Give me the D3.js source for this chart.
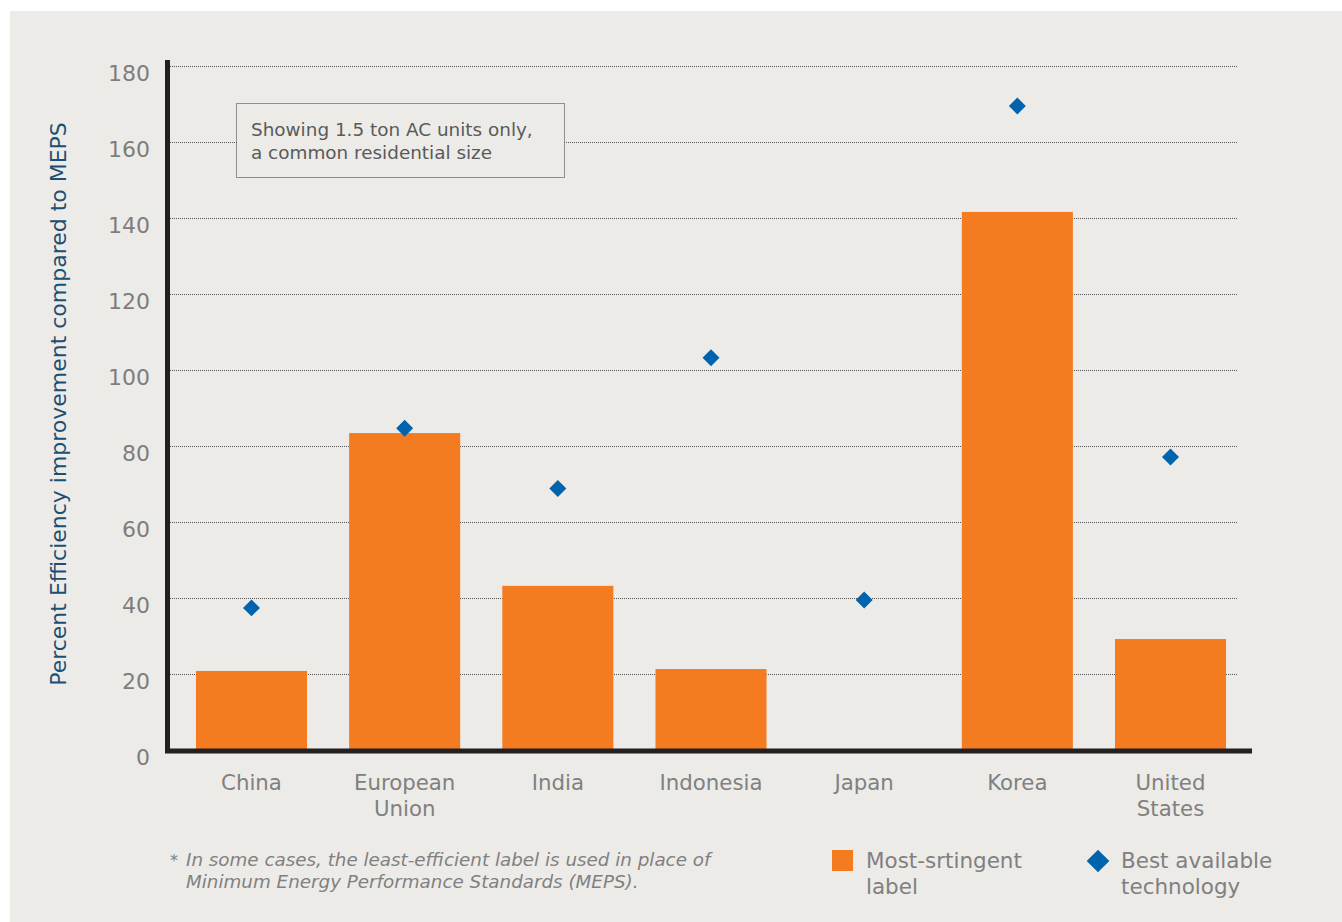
<!DOCTYPE html>
<html>
<head>
<meta charset="utf-8">
<script src="https://cdn.jsdelivr.net/npm/d3@7"></script>
<style>
  html, body { margin: 0; padding: 0; background: #ffffff; }
  svg { display: block; }
  text { font-family: "DejaVu Sans", "Open Sans", sans-serif; }
</style>
</head>
<body>
<svg id="chart" width="1342" height="922"></svg>
<script>
const categories = ["China", "European Union", "India", "Indonesia", "Japan", "Korea", "United States"];
const categoryLines = [["China"], ["European", "Union"], ["India"], ["Indonesia"], ["Japan"], ["Korea"], ["United", "States"]];
const mostStringent = [20.8, 83.4, 43.2, 21.3, null, 141.6, 29.2];
const bestAvailable = [37.4, 84.7, 68.8, 103.2, 39.5, 169.5, 77.1];
const yTicks = [0, 20, 40, 60, 80, 100, 120, 140, 160, 180];
const yTitle = "Percent Efficiency improvement compared to MEPS";
const noteLines = ["Showing 1.5 ton AC units only,", "a common residential size"];
const footnoteLines = ["In some cases, the least-efficient label is used in place of", "Minimum Energy Performance Standards (MEPS)."];
const legendItems = [["Most-srtingent", "label"], ["Best available", "technology"]];

const svg = d3.select("#chart");
const ORANGE = "#f47b20", BLUE = "#0063ae", GREY = "#808080";

// fit font size of a selection so that a sample text has a target width
function fitSize(sel, sampleNode, target) {
  const w = sampleNode.getComputedTextLength();
  const fs = parseFloat(sampleNode.getAttribute("font-size"));
  const nfs = fs * target / w;
  sel.attr("font-size", nfs);
  return nfs;
}

svg.append("rect").attr("x", 10).attr("y", 11).attr("width", 1332).attr("height", 911).attr("fill", "#edebe8");

const y = d3.scaleLinear().domain([0, 180]).range([750, 66]);
const x = d3.scaleBand().domain(categories).range([174.9, 1247.1]).paddingInner(0.275).paddingOuter(0.1375);

// gridlines
svg.append("g").selectAll("line").data(yTicks.filter(d => d > 0)).join("line")
  .attr("x1", 170).attr("x2", 1238)
  .attr("y1", d => y(d) + 0.5).attr("y2", d => y(d) + 0.5)
  .attr("stroke", "#555").attr("stroke-width", 1).attr("stroke-dasharray", "1,1");

// annotation box
const box = svg.append("g");
box.append("rect").attr("x", 236.5).attr("y", 103.5).attr("width", 328).attr("height", 74)
  .attr("fill", "#edebe8").attr("stroke", "#333").attr("stroke-width", 1).attr("stroke-dasharray", "1,1");
const noteT = box.selectAll("text").data(noteLines).join("text")
  .attr("x", 251).attr("y", (d, i) => 136 + i * 23)
  .attr("font-size", 17).attr("fill", "#5a5a5a").text(d => d);
fitSize(noteT, noteT.nodes()[0], 282);

// bars
svg.append("g").selectAll("rect").data(categories.map((c, i) => ({c, v: mostStringent[i]})).filter(d => d.v != null))
  .join("rect")
  .attr("x", d => x(d.c)).attr("width", x.bandwidth())
  .attr("y", d => y(d.v)).attr("height", d => y(0) - y(d.v))
  .attr("fill", ORANGE);

// diamonds
const ds = 12;
svg.append("g").selectAll("rect").data(categories.map((c, i) => ({c, v: bestAvailable[i]})))
  .join("rect")
  .attr("x", -ds / 2).attr("y", -ds / 2).attr("width", ds).attr("height", ds)
  .attr("transform", d => `translate(${x(d.c) + x.bandwidth() / 2},${y(d.v)}) rotate(45)`)
  .attr("fill", BLUE);

// axes lines
svg.append("line").attr("x1", 167.5).attr("x2", 167.5).attr("y1", 60).attr("y2", 753)
  .attr("stroke", "#231f20").attr("stroke-width", 5);
svg.append("line").attr("x1", 165).attr("x2", 1252).attr("y1", 751).attr("y2", 751)
  .attr("stroke", "#231f20").attr("stroke-width", 5);

// y axis tick labels
const yAxis = d3.axisLeft(y).tickValues(yTicks).tickSize(0).tickPadding(0);
const yg = svg.append("g").attr("transform", "translate(150,7)").call(yAxis);
yg.select(".domain").remove();
yg.selectAll("text").attr("font-size", 22).attr("fill", "#7d7d7d")
  .attr("font-family", "'Open Sans', sans-serif").attr("dy", "0.36em").attr("dx", 0);

// x labels
const xg = svg.append("g");
categories.forEach((c, i) => {
  const cx = x(c) + x.bandwidth() / 2;
  const t = xg.append("text").attr("x", cx).attr("y", 790)
    .attr("text-anchor", "middle").attr("font-size", 20).attr("fill", GREY);
  categoryLines[i].forEach((ln, j) => t.append("tspan").attr("x", cx).attr("y", 790 + j * 26).text(ln));
});
const xT = xg.selectAll("text");
fitSize(xT, xT.filter((d, i) => i === 3).node(), 103);

// y title
const yt = svg.append("text").attr("transform", "translate(66,404) rotate(-90)")
  .attr("text-anchor", "middle").attr("font-size", 20).attr("fill", "#1d4f73").text(yTitle);
fitSize(yt, yt.node(), 564);

// footnote
svg.append("text").attr("x", 170).attr("y", 866).attr("font-size", 16).attr("fill", GREY).text("*");
const fnT = svg.append("g").selectAll("text").data(footnoteLines).join("text")
  .attr("x", 186).attr("y", (d, i) => 866 + i * 22)
  .attr("font-size", 16).attr("font-style", "italic").attr("fill", GREY).text(d => d);
fitSize(fnT, fnT.nodes()[0], 525);

// legend
const lg = svg.append("g");
lg.append("rect").attr("x", 832).attr("y", 850).attr("width", 21).attr("height", 21).attr("fill", ORANGE);
lg.append("rect").attr("x", -8).attr("y", -8).attr("width", 16).attr("height", 16)
  .attr("transform", "translate(1098,861) rotate(45)").attr("fill", BLUE);
[866, 1121].forEach((lx, k) => {
  legendItems[k].forEach((ln, j) => {
    lg.append("text").attr("class", "lgt").attr("x", lx).attr("y", 868 + j * 26).attr("font-size", 20)
      .attr("fill", GREY).text(ln);
  });
});
const lgT = lg.selectAll("text.lgt");
fitSize(lgT, lgT.nodes()[0], 156);
</script>
</body>
</html>
